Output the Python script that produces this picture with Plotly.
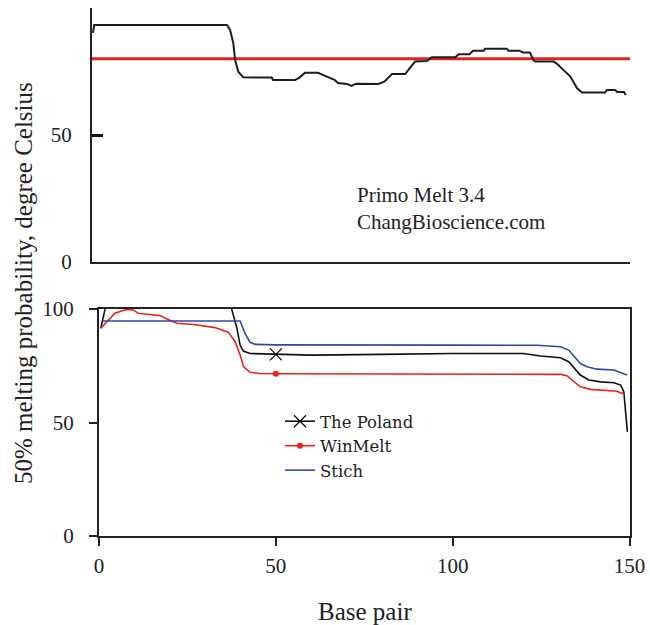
import plotly.graph_objects as go

# ---------------- data ----------------
# Top panel: Primo Melt 3.4 melting profile (degree Celsius vs base pair)
primo_bp = [0, 0.3, 37.7, 38.6, 39.5, 40, 40.9, 42.3, 50.3, 50.7, 56.9, 58, 59.7, 63.4,
            65, 68, 69, 71.5, 72.8, 74, 80.3, 82, 84.2, 87.9, 89, 90.7, 94, 95.4, 102,
            103, 106, 107, 110, 110.4, 116.5, 117, 120, 121, 123, 124, 124.5, 129.7,
            130.5, 134.4, 136.3, 137.7, 144.2, 144.7, 147, 147.6, 149.5, 150]
primo_tm = [90.2, 93.3, 93.3, 91.3, 86.1, 79.5, 74.9, 72.7, 72.6, 71.7, 71.7, 72.5, 74.5, 74.5,
            73.5, 71.7, 70.5, 70.1, 69.3, 70.2, 70.1, 71.0, 74.0, 74.0, 76.0, 78.9, 79.1, 80.6, 80.6,
            81.8, 81.8, 83.2, 83.2, 84.0, 84.0, 83.2, 83.2, 82.5, 82.5, 79.5, 78.9, 78.9,
            78.2, 73.0, 68.4, 66.7, 66.7, 67.7, 67.7, 66.9, 66.9, 65.7]
ref_bp = [-0.3, 151.2]
ref_tm = [80, 80]

# Bottom panel: three programs
poland_bp = [0.5, 3, 36, 37.5, 39, 39.9, 40.8, 42.7, 50, 60, 80, 100, 120, 124.8, 130.5,
             132.8, 136.1, 138.5, 141.8, 145.6, 147.5, 148.4, 149.4]
poland_tm = [91.5, 109, 108.5, 100, 91.5, 84.1, 81.5, 80.4, 80.0, 79.7, 80.0, 80.4, 80.4, 79.3, 78.5,
             76.8, 70.9, 68.7, 67.9, 67.5, 66.5, 63.5, 45.9]

winmelt_bp = [0.5, 2.2, 4.5, 6.4, 7.8, 9.7, 11.1, 14.4, 17.3, 19.2, 22, 26.7, 30.5, 32.8,
              36.6, 38.5, 39.9, 40.9, 42.7, 45.5, 50, 122.9, 130.5, 132.3, 134.2, 136.1,
              139, 143.7, 146.5, 148.6]
winmelt_tm = [91.5, 94.4, 98.1, 99.1, 99.8, 99.6, 98.1, 97.6, 97.1, 95.6, 93.7, 93.2, 92.2, 91.8,
              89.7, 85.6, 79.7, 74.5, 72.1, 71.6, 71.5, 71.5, 71.2, 70.6, 68.2, 65.7,
              64.6, 64.3, 63.8, 62.4]

stich_bp = [1, 39.9, 41.3, 42.7, 44.2, 50, 100, 123.9, 130.5, 132.8, 136.1, 138, 140.8, 145.6, 149.3]
stich_tm = [94.7, 94.7, 89.3, 85.3, 84.4, 84.2, 84.1, 84.0, 83.4, 81.9, 76.0, 74.6, 73.5, 73.1, 70.9]

x_ticks = [0, 50, 100, 150]
y_ticks_bottom = [0, 50, 100]
y_ticks_top = [0, 50]
marker_bp = 50

# ---------------- figure ----------------
W, H = 650, 625
SERIF = "Liberation Serif"
AX = "#222222"

fig = go.Figure()

fig.add_trace(go.Scatter(x=ref_bp, y=ref_tm, mode="lines", line=dict(color="#e8201c", width=3),
                         showlegend=False, xaxis="x", yaxis="y", hoverinfo="skip"))
fig.add_trace(go.Scatter(x=primo_bp, y=primo_tm, mode="lines", line=dict(color="#1c1c24", width=2),
                         showlegend=False, xaxis="x", yaxis="y"))

ip = poland_bp.index(marker_bp)
iw = winmelt_bp.index(marker_bp)

fig.add_trace(go.Scatter(x=poland_bp, y=poland_tm, mode="lines", line=dict(color="#111111", width=1.6),
                         showlegend=False, xaxis="x2", yaxis="y2"))
fig.add_trace(go.Scatter(x=[poland_bp[ip]], y=[poland_tm[ip]], mode="lines+markers", name="The Poland",
                         line=dict(color="#111111", width=1.6),
                         marker=dict(symbol="x-thin-open", size=12, color="#111111",
                                     line=dict(width=1.3, color="#111111")),
                         xaxis="x2", yaxis="y2"))
fig.add_trace(go.Scatter(x=winmelt_bp, y=winmelt_tm, mode="lines", line=dict(color="#e8231f", width=1.6),
                         showlegend=False, xaxis="x2", yaxis="y2"))
fig.add_trace(go.Scatter(x=[winmelt_bp[iw]], y=[winmelt_tm[iw]], mode="lines+markers", name="WinMelt",
                         line=dict(color="#e8231f", width=1.6),
                         marker=dict(symbol="circle", size=6, color="#e8231f"),
                         xaxis="x2", yaxis="y2"))
fig.add_trace(go.Scatter(x=stich_bp, y=stich_tm, mode="lines", name="Stich",
                         line=dict(color="#2b4aa3", width=1.6), xaxis="x2", yaxis="y2"))

tickfont = dict(family=SERIF, size=21, color="#222")

fig.update_layout(
    template="none",
    width=W, height=H,
    margin=dict(l=0, r=0, t=0, b=0, pad=0, autoexpand=False),
    paper_bgcolor="white", plot_bgcolor="white",
    xaxis=dict(domain=[92 / W, 630 / W], range=ref_bp, anchor="y", automargin=False,
               showline=True, linewidth=2, linecolor=AX, ticks="", showticklabels=False,
               showgrid=False, zeroline=False),
    yaxis=dict(domain=[1 - 262 / H, 1 - 8 / H], range=[0, 100], anchor="x", automargin=False,
               showline=True, linewidth=2, linecolor=AX, ticks="inside", tickvals=y_ticks_top,
               ticklen=11, tickwidth=3, tickcolor="#111", tickfont=tickfont,
               ticklabelstandoff=14, showgrid=False, zeroline=False),
    xaxis2=dict(domain=[99 / W, 629.5 / W], range=[0, 150], anchor="y2", automargin=False,
                showline=True, mirror=True, linewidth=2, linecolor=AX, ticks="outside",
                tickvals=x_ticks, ticklen=8, tickwidth=2, tickcolor=AX, tickfont=tickfont,
                ticklabelstandoff=2, showgrid=False, zeroline=False),
    yaxis2=dict(domain=[1 - 536 / H, 1 - 309 / H], range=[0, 100], anchor="x2", automargin=False,
                showline=True, mirror=True, linewidth=2, linecolor=AX, ticks="outside",
                tickvals=y_ticks_bottom, ticklen=8, tickwidth=2, tickcolor=AX, tickfont=tickfont,
                ticklabelstandoff=11, showgrid=False, zeroline=False),
    legend=dict(x=280 / W, y=1 - 404 / H, xanchor="left", yanchor="top",
                bgcolor="rgba(0,0,0,0)", borderwidth=0, tracegroupgap=0,
                font=dict(family="DejaVu Serif", size=16.5, color="#222")),
    annotations=[
        dict(text="Primo Melt 3.4<br>ChangBioscience.com", x=355 / W, y=1 - 208 / H,
             xref="paper", yref="paper", align="left",
             xanchor="left", yanchor="middle", showarrow=False,
             font=dict(family=SERIF, size=21, color="#222")),
        dict(text="50% melting probability, degree Celsius", x=23 / W, y=1 - 283 / H,
             xref="paper", yref="paper", textangle=-90, showarrow=False,
             xanchor="center", yanchor="middle",
             font=dict(family=SERIF, size=25, color="#222")),
        dict(text="Base pair", x=365 / W, y=1 - 611 / H, xref="paper", yref="paper",
             xanchor="center", yanchor="middle", showarrow=False,
             font=dict(family=SERIF, size=25, color="#222")),
    ],
)

fig.write_html("out.html")
